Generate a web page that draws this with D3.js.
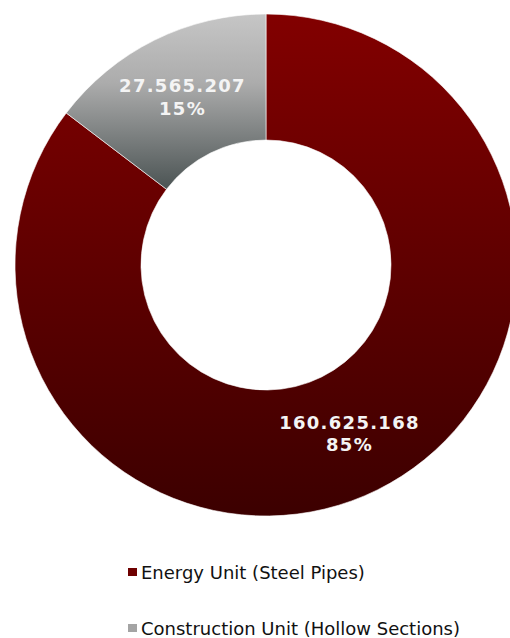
<!DOCTYPE html>
<html>
<head>
<meta charset="utf-8">
<script src="https://cdn.jsdelivr.net/npm/d3@7"></script>
<style>
  body { margin: 0; background: #fff; }
</style>
</head>
<body>
<div id="chart"></div>
<script>
var units = ["Energy Unit (Steel Pipes)", "Construction Unit (Hollow Sections)"];
var values = [160625168, 27565207];
var percents = ["85%", "15%"];

var width = 510, height = 638;
var cx = 266, cy = 265;
var outerR = 251, innerR = 125;

var svg = d3.select("#chart").append("svg")
    .attr("width", width)
    .attr("height", height);

var defs = svg.append("defs");

// gradients are in the local space of the translated group
var redGrad = defs.append("linearGradient")
    .attr("id", "gradRed")
    .attr("gradientUnits", "userSpaceOnUse")
    .attr("x1", 0).attr("y1", -outerR)
    .attr("x2", 0).attr("y2", outerR);
redGrad.append("stop").attr("offset", "0%").attr("stop-color", "#820000");
redGrad.append("stop").attr("offset", "100%").attr("stop-color", "#3c0000");

var grayGrad = defs.append("linearGradient")
    .attr("id", "gradGray")
    .attr("gradientUnits", "userSpaceOnUse")
    .attr("x1", 0).attr("y1", -outerR)
    .attr("x2", 0).attr("y2", -79);
grayGrad.append("stop").attr("offset", "0%").attr("stop-color", "#c6c6c6");
grayGrad.append("stop").attr("offset", "40%").attr("stop-color", "#acacac");
grayGrad.append("stop").attr("offset", "100%").attr("stop-color", "#4e5656");

var fills = ["url(#gradRed)", "url(#gradGray)"];

var pie = d3.pie().sort(null).value(function (d) { return d; });
var arc = d3.arc().innerRadius(innerR).outerRadius(outerR);
var labelArc = d3.arc().innerRadius(188).outerRadius(188);

var fmt = d3.formatLocale({ decimal: ",", thousands: ".", grouping: [3], currency: ["", ""] }).format(",d");

var g = svg.append("g").attr("transform", "translate(" + cx + "," + cy + ")");

var arcs = pie(values);

g.selectAll("path")
    .data(arcs)
    .enter()
    .append("path")
    .attr("d", arc)
    .style("fill", function (d, i) { return fills[i]; })
    .style("stroke", "#fff")
    .style("stroke-width", 0.6);

var labels = g.selectAll("text.lbl")
    .data(arcs)
    .enter()
    .append("text")
    .attr("class", "lbl")
    .attr("transform", function (d) { return "translate(" + labelArc.centroid(d) + ")"; })
    .attr("text-anchor", "middle")
    .style("font-family", "'DejaVu Sans', Verdana, sans-serif")
    .style("font-weight", "bold")
    .style("font-size", "18px")
    .style("letter-spacing", "1.3px")
    .style("fill", "#f4f4f4");

labels.append("tspan")
    .attr("x", 0)
    .attr("dy", "-0.25em")
    .text(function (d) { return fmt(d.data); });
labels.append("tspan")
    .attr("x", 0)
    .attr("dy", "1.25em")
    .text(function (d, i) { return percents[i]; });

// legend
var legendSwatch = ["#6e0000", "#a4a4a4"];
var legend = svg.selectAll("g.legend")
    .data(units)
    .enter()
    .append("g")
    .attr("class", "legend")
    .attr("transform", function (d, i) { return "translate(128," + (579 + i * 56) + ")"; });

legend.append("rect")
    .attr("x", 0)
    .attr("y", -11)
    .attr("width", 9)
    .attr("height", 8)
    .style("fill", function (d, i) { return legendSwatch[i]; });

legend.append("text")
    .attr("x", 13)
    .attr("y", 0)
    .style("font-family", "'DejaVu Sans', Verdana, sans-serif")
    .style("font-size", "18px")
    .style("fill", "#111")
    .text(function (d) { return d; });
</script>
</body>
</html>
